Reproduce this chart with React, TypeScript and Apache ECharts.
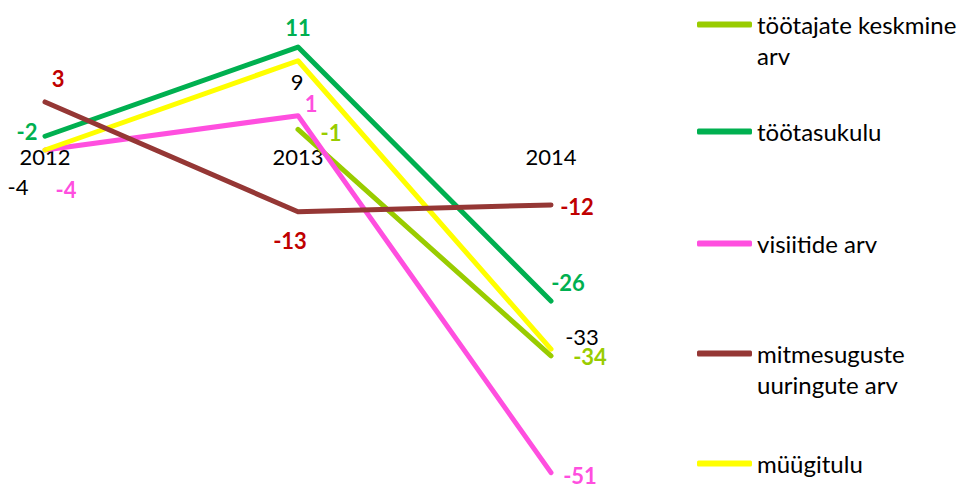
import React, { useEffect, useRef } from 'react';
import * as echarts from 'echarts';

const categories = ['2012', '2013', '2014'];
const seriesNames = [
  'töötajate keskmine arv',
  'töötasukulu',
  'visiitide arv',
  'mitmesuguste uuringute arv',
  'müügitulu',
];
const tootajateKeskmineArv: (number | null)[] = [null, -1, -34];
const tootasukulu = [-2, 11, -26];
const visiitideArv = [-4, 1, -51];
const uuringuteArv = [3, -13, -12];
const muugitulu = [-4, 9, -33];

const FONT = 'Lato, "Open Sans", sans-serif';
const LEG_LH = 31;

export default function App() {
  const ref = useRef<HTMLDivElement>(null);
  useEffect(() => {
    const chart = echarts.init(ref.current!, null, { renderer: 'svg' });

    const defs = [
      {
        name: seriesNames[0], data: tootajateKeskmineArv, color: '#99CC00', labelColor: '#99CC00', bold: true,
        offsets: [[0, 0], [33, 3], [39, 1]], iconY: 28, lines: ['töötajate keskmine', 'arv'],
      },
      {
        name: seriesNames[1], data: tootasukulu, color: '#00B050', labelColor: '#00B050', bold: true,
        offsets: [[-18, -5], [0, -20], [17, -19]], iconY: 135, lines: ['töötasukulu'],
      },
      {
        name: seriesNames[2], data: visiitideArv, color: '#FF4FDF', labelColor: '#FF4FDF', bold: true,
        offsets: [[21, 40], [13, -12], [29, 3]], iconY: 247, lines: ['visiitide arv'],
      },
      {
        name: seriesNames[4], data: muugitulu, color: '#FFFF00', labelColor: '#000000', bold: false,
        offsets: [[-27, 37], [-1, 21], [31, -13]], iconY: 467, lines: ['müügitulu'],
      },
      {
        name: seriesNames[3], data: uuringuteArv, color: '#953735', labelColor: '#C00000', bold: true,
        offsets: [[13, -23], [-8, 29], [26, 2]], iconY: 357, lines: ['mitmesuguste', 'uuringute arv'],
      },
    ];

    const series = defs.map((d) => ({
      type: 'line',
      name: d.name,
      color: d.color,
      symbol: 'circle',
      symbolSize: 1,
      showSymbol: true,
      connectNulls: false,
      lineStyle: { color: d.color, width: 5, cap: 'round', join: 'round' },
      itemStyle: { color: d.color },
      data: d.data.map((v, i) => ({
        value: v,
        label: { offset: d.offsets[i] },
      })),
      label: {
        show: true,
        position: 'inside',
        color: d.labelColor,
        fontFamily: FONT,
        fontSize: 22,
        fontWeight: d.bold ? 'bold' : 'normal',
      },
    }));

    const legends = defs.map((d) => {
      const twoLine = d.lines.length > 1;
      const text = twoLine
        ? ['{a| }', ...d.lines.map((l) => `{a|${l}}`)].join('\n')
        : `{a|${d.lines[0]}}`;
      const half = twoLine ? 1.5 * LEG_LH : 0.5 * LEG_LH;
      return {
        data: [d.name],
        left: 697,
        top: d.iconY - half,
        orient: 'vertical',
        padding: 0,
        icon: 'roundRect',
        itemWidth: 55,
        itemHeight: 6,
        selectedMode: false,
        formatter: () => text,
        itemStyle: { color: d.color },
        textStyle: {
          fontFamily: FONT,
          fontSize: 24,
          color: '#000',
          rich: {
            a: { fontFamily: FONT, fontSize: 24, color: '#000', lineHeight: LEG_LH },
          },
        },
      };
    });

    const gridTop = 12.7;
    const gridBottom = 5.5;
    const yMin = -52;
    const yMax = 16;
    const plotH = 485 - gridTop - gridBottom;
    const zeroFromBottom = ((0 - yMin) / (yMax - yMin)) * plotH;

    chart.setOption({
      animation: false,
      backgroundColor: '#ffffff',
      grid: {
        left: 45, right: 415, top: gridTop, bottom: gridBottom,
        containLabel: false, outerBoundsMode: 'none',
      },
      xAxis: {
        type: 'category',
        data: categories,
        boundaryGap: false,
        position: 'bottom',
        offset: -zeroFromBottom,
        axisLine: { show: false, onZero: false },
        axisTick: { show: false },
        axisLabel: { color: '#000', fontFamily: FONT, fontSize: 22, margin: 23 },
        splitLine: { show: false },
      },
      yAxis: {
        type: 'value',
        min: yMin,
        max: yMax,
        show: false,
        splitLine: { show: false },
      },
      legend: legends,
      series,
    });
    return () => chart.dispose();
  }, []);
  return <div ref={ref} style={{ position: 'fixed', left: 0, top: 0, width: 966, height: 485 }} />;
}
